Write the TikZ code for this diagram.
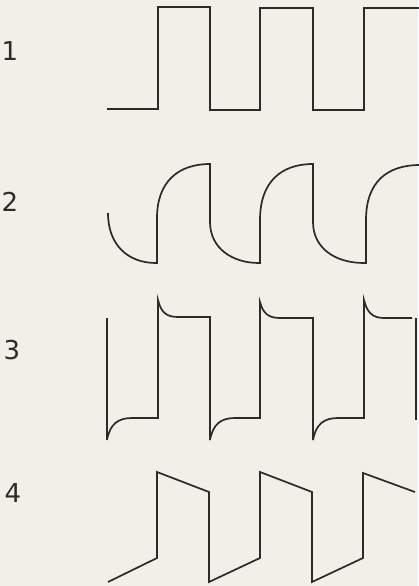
\documentclass[tikz,border=0pt]{standalone}
\usepackage{fontspec}
\setmainfont{DejaVu Sans}
\definecolor{paper}{RGB}{242,238,232}
\definecolor{ink}{RGB}{45,42,40}
\begin{document}
\begin{tikzpicture}[x=1pt,y=-1pt,
  wave/.style={draw=ink,line width=1.7pt,line join=miter},
  lab/.style={text=ink,font=\fontsize{26}{30}\selectfont,inner sep=0pt}]
\fill[paper] (0,0) rectangle (418,586);
\useasboundingbox (0,0) rectangle (418,586);
% labels
\node[lab] (l1) at (10,51) {1};
\node[lab] (l2) at (10,202) {2};
\node[lab] (l3) at (12,350) {3};
\node[lab] (l4) at (13,493) {4};
% 1: square wave
\draw[wave] (107,109) -- (158,109) -- (158,7) -- (210,7) -- (210,110) -- (260,110)
  -- (260,8) -- (313,8) -- (313,110) -- (364,110) -- (364,8) -- (420,8);
% 2: RC-integrated wave
\draw[wave] (108,213) .. controls (108,245) and (128,263) .. (156,263)
  -- (157,263) -- (157,218) .. controls (157,182) and (178,164) .. (210,164)
  -- (210,222) .. controls (210,248) and (232,263) .. (259,263)
  -- (260,263) -- (260,220) .. controls (260,182) and (281,164) .. (313,164)
  -- (313,222) .. controls (313,248) and (335,263) .. (364,263)
  -- (366,263) -- (366,220) .. controls (366,182) and (387,165) .. (420,165);
% 3: overshoot wave
\draw[wave] (107,318) -- (107,440);
\draw[wave] (107,440) .. controls (110,424) and (118,418) .. (132,418) -- (158,418)
  -- (158,300) .. controls (161,312) and (166,317) .. (178,317) -- (210,317)
  -- (210,440);
\draw[wave] (210,440) .. controls (213,424) and (221,418) .. (235,418) -- (260,418)
  -- (260,302) .. controls (263,313) and (268,318) .. (280,318) -- (313,318)
  -- (313,440);
\draw[wave] (313,440) .. controls (316,424) and (324,418) .. (338,418) -- (364,418)
  -- (364,300) .. controls (367,312) and (372,318) .. (384,318) -- (412,318);
\draw[wave] (416,318) -- (416,420);
% 4: tilted wave
\draw[wave] (108,582) -- (157,558) -- (157,472) -- (209,492) -- (209,582)
  -- (260,558) -- (260,472) -- (312,492) -- (312,582) -- (363,558)
  -- (363,473) -- (415,492);
\end{tikzpicture}
\end{document}
